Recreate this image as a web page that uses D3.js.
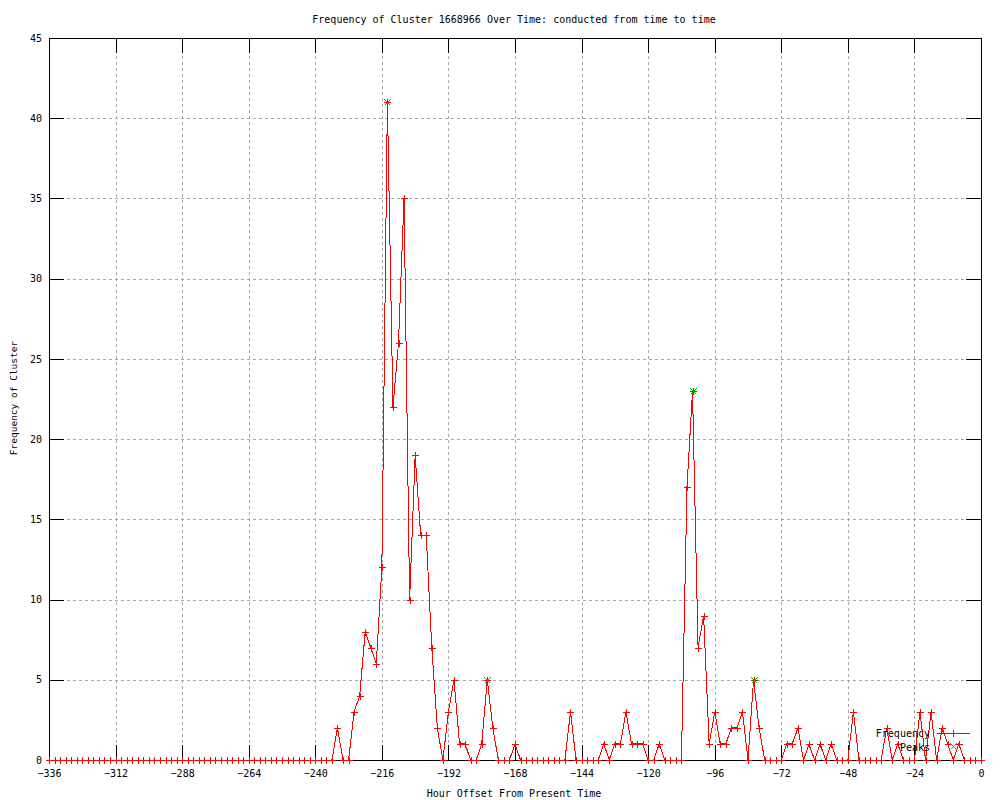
<!DOCTYPE html>
<html>
<head>
<meta charset="utf-8">
<script src="https://cdn.jsdelivr.net/npm/d3@7"></script>
<style>
  body { margin: 0; background: #fff; }
  text { font-family: "DejaVu Sans Mono", monospace; }
</style>
</head>
<body>
<div id="chart"></div>
<script>
// hours are 2 apart, from -336 up to 0
const hourStart = -336;
const hourStep = 2;
const frequency = [
  0,0,0,0,0,0,0,0,0,0, 0,0,0,0,0,0,0,0,0,0,
  0,0,0,0,0,0,0,0,0,0, 0,0,0,0,0,0,0,0,0,0,
  0,0,0,0,0,0,0,0,0,0, 0,0,
  2,0,0,3,4,8,7,6,12,41,22,26,35,10,19,14,14,7,2,0,
  3,5,1,1,0,0,1,5,2,0,0,0,1,
  0,0,0,0,0,0,0,0,0,3,0,0,0,0,0,
  1,0,1,1,3,1,1,1,0,0,1,0,0,0,0,
  17,23,7,9,1,3,1,1,2,2,3,0,5,2,0,0,0,0,
  1,1,2,0,1,0,1,0,1,0,0,0,3,0,0,0,0,0,
  2,0,1,0,0,0,3,0,3,0,2,1,0,1,0,0,0,0
];
const peakHours = [-214, -178, -104, -82];

const xTicks = d3.range(-336, 1, 24);
const yTicks = d3.range(0, 46, 5);

const titleText = "Frequency of Cluster 1668966 Over Time: conducted from time to time";
const xLabel = "Hour Offset From Present Time";
const yLabel = "Frequency of Cluster";

const data = frequency.map((v, i) => ({ hour: hourStart + i * hourStep, value: v }));
const peaks = peakHours.map(h => data.find(d => d.hour === h));

const width = 1000, height = 800;
const plotL = 49, plotR = 981, plotT = 38, plotB = 760;

const svg = d3.select("#chart").append("svg")
  .attr("width", width)
  .attr("height", height);

const x = d3.scaleLinear().domain([-336, 0]).range([plotL, plotR]);
const y = d3.scaleLinear().domain([0, 45]).range([plotB, plotT]);

// grid
const grid = svg.append("g")
  .attr("stroke", "#a8a8a8")
  .attr("stroke-dasharray", "3,3")
  .attr("shape-rendering", "crispEdges");
grid.selectAll("line.gx")
  .data(xTicks.slice(1, -1))
  .join("line")
  .attr("class", "gx")
  .attr("x1", d => Math.round(x(d)) + 0.5)
  .attr("x2", d => Math.round(x(d)) + 0.5)
  .attr("y1", plotT).attr("y2", plotB);
grid.selectAll("line.gy")
  .data(yTicks.slice(1, -1))
  .join("line")
  .attr("class", "gy")
  .attr("x1", plotL).attr("x2", plotR)
  .attr("y1", d => Math.round(y(d)) + 0.5)
  .attr("y2", d => Math.round(y(d)) + 0.5);

// axes, ticks pointing inward
const styleAxis = g => {
  g.select(".domain").remove();
  g.selectAll("line").attr("stroke", "#000").attr("shape-rendering", "crispEdges");
  g.selectAll("text").attr("font-size", "10px").attr("fill", "#000")
    .style("font-family", "'DejaVu Sans Mono', monospace");
};

svg.append("g")
  .attr("transform", `translate(0,${plotB})`)
  .call(d3.axisBottom(x).tickValues(xTicks).tickSize(-15).tickPadding(10).tickFormat(d3.format("d")))
  .call(styleAxis);
svg.append("g")
  .attr("transform", `translate(0,${plotT})`)
  .call(d3.axisTop(x).tickValues(xTicks).tickSize(-15).tickFormat(""))
  .call(styleAxis);
svg.append("g")
  .attr("transform", `translate(${plotL},0)`)
  .call(d3.axisLeft(y).tickValues(yTicks).tickSize(-15).tickPadding(7))
  .call(styleAxis);
svg.append("g")
  .attr("transform", `translate(${plotR},0)`)
  .call(d3.axisRight(y).tickValues(yTicks).tickSize(-15).tickFormat(""))
  .call(styleAxis);

// border
svg.append("rect")
  .attr("x", plotL + 0.5).attr("y", plotT + 0.5)
  .attr("width", plotR - plotL).attr("height", plotB - plotT)
  .attr("fill", "none").attr("stroke", "#000")
  .attr("shape-rendering", "crispEdges");

// frequency line
const line = d3.line().x(d => x(d.hour)).y(d => y(d.value));
svg.append("path")
  .datum(data)
  .attr("fill", "none")
  .attr("stroke", "#ff0000")
  .attr("stroke-width", 1)
  .attr("shape-rendering", "crispEdges")
  .attr("d", line);

// plus markers
const plus = (cx, cy, r) => `M${cx - r},${cy}H${cx + r}M${cx},${cy - r}V${cy + r}`;
const cross = (cx, cy, r) => `M${cx - r},${cy - r}L${cx + r},${cy + r}M${cx - r},${cy + r}L${cx + r},${cy - r}`;

svg.append("g")
  .attr("stroke", "#ff0000")
  .attr("fill", "none")
  .attr("shape-rendering", "crispEdges")
  .selectAll("path")
  .data(data)
  .join("path")
  .attr("d", d => plus(Math.round(x(d.hour)) + 0.5, Math.round(y(d.value)) + 0.5, 3.5));

// peaks
svg.append("g")
  .attr("stroke", "#00c000")
  .attr("fill", "none")
  .attr("shape-rendering", "crispEdges")
  .selectAll("path")
  .data(peaks)
  .join("path")
  .attr("d", d => cross(Math.round(x(d.hour)) + 0.5, Math.round(y(d.value)) + 0.5, 3));

// legend
const legend = svg.append("g");
legend.append("text")
  .attr("x", 930).attr("y", 737)
  .attr("text-anchor", "end").attr("font-size", "10px")
  .text("Frequency");
legend.append("path")
  .attr("d", "M937,733.5H970" + plus(953.5, 733.5, 3.5))
  .attr("fill", "none")
  .attr("stroke", "#ff0000")
  .attr("shape-rendering", "crispEdges");
legend.append("text")
  .attr("x", 930).attr("y", 751)
  .attr("text-anchor", "end").attr("font-size", "10px")
  .text("Peaks");
legend.append("path")
  .attr("d", cross(953.5, 746.5, 3))
  .attr("stroke", "#00c000").attr("fill", "none")
  .attr("shape-rendering", "crispEdges");

// titles
svg.append("text")
  .attr("x", 514).attr("y", 23)
  .attr("text-anchor", "middle").attr("font-size", "10px")
  .text(titleText);
svg.append("text")
  .attr("x", 514).attr("y", 797)
  .attr("text-anchor", "middle").attr("font-size", "10px")
  .text(xLabel);
svg.append("text")
  .attr("transform", "translate(16.5,398) rotate(-90)")
  .attr("text-anchor", "middle").attr("font-size", "9.5px")
  .text(yLabel);
</script>
</body>
</html>
